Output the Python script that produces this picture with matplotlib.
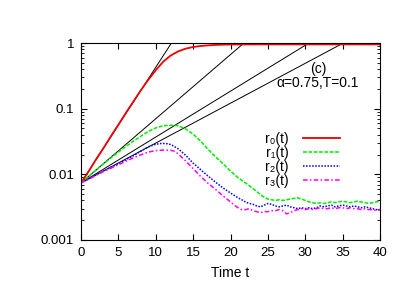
import numpy as np
import matplotlib
matplotlib.use('Agg')
import matplotlib.pyplot as plt

plt.rcParams['font.family'] = ['Liberation Sans', 'DejaVu Sans']

# r0(t)
t_r0 = [0, 1, 2, 3, 4, 5, 6, 7, 8, 9, 10, 11, 12, 13, 14, 15, 16, 17, 18, 19, 20, 22, 25, 30, 35, 40]
r0 = [0.0074, 0.011, 0.0168, 0.025, 0.038, 0.057, 0.086, 0.128, 0.19, 0.275, 0.385, 0.52, 0.645,
      0.745, 0.82, 0.87, 0.9, 0.92, 0.935, 0.943, 0.948, 0.951, 0.952, 0.952, 0.952, 0.952]

# r1(t)
t_r1 = [0, 1, 2, 3, 4, 5, 6, 7, 8, 9, 10, 11, 12, 13, 14, 15, 16, 17, 18, 19, 20, 21, 22, 23,
        23.5, 24, 24.5, 25, 25.5, 26, 26.5, 27, 27.5, 28, 28.5, 29, 29.5, 30, 30.5, 31, 31.5,
        32, 32.5, 33, 33.5, 34, 34.5, 35, 35.5, 36, 36.5, 37, 37.5, 38, 38.5, 39, 39.5, 40]
r1 = [0.0074, 0.0093, 0.0116, 0.0144, 0.0178, 0.0218, 0.0265, 0.032, 0.038, 0.045, 0.051, 0.055,
      0.056, 0.055, 0.049, 0.041, 0.032, 0.024, 0.0185, 0.0145, 0.0112, 0.0089, 0.0074, 0.0061,
      0.0055, 0.0049, 0.0045, 0.0042, 0.0041, 0.0040, 0.0041, 0.0040, 0.0041, 0.0042, 0.0043,
      0.0044, 0.0042, 0.0040, 0.0038, 0.0037, 0.0036, 0.0037, 0.0036, 0.0037, 0.0038, 0.0037,
      0.0038, 0.0039, 0.0038, 0.0037, 0.0038, 0.0039, 0.0038, 0.0037, 0.0036, 0.0037, 0.0038, 0.0039]

# r2(t)
t_r2 = [0, 1, 2, 3, 4, 5, 6, 7, 8, 9, 10, 10.8, 11.5, 12, 13, 14, 15, 16, 17, 18, 19, 20,
        21, 21.5, 22, 22.5, 23, 23.5, 24, 24.5, 25, 25.5, 26, 26.5, 27, 27.5, 28, 28.5, 29, 29.5,
        30, 30.5, 31, 31.5, 32, 32.5, 33, 33.5, 34, 34.5, 35, 35.5, 36, 36.5, 37, 37.5, 38, 38.5,
        39, 39.5, 40]
r2 = [0.0074, 0.0085, 0.0098, 0.0112, 0.0128, 0.0146, 0.0166, 0.0192, 0.0225, 0.0262, 0.0287,
      0.0296, 0.0293, 0.0285, 0.0245, 0.0195, 0.0148, 0.0118, 0.0094, 0.0076, 0.0062, 0.0052,
      0.0044, 0.0041, 0.0038, 0.0036, 0.0035, 0.0033, 0.0032, 0.0034, 0.0036, 0.0035, 0.0033,
      0.0032, 0.0033, 0.0034, 0.0032, 0.0031, 0.0030, 0.0031, 0.0030, 0.0031, 0.0030, 0.0031,
      0.0033, 0.0032, 0.0033, 0.0034, 0.0032, 0.0033, 0.0034, 0.0033, 0.0032, 0.0033, 0.0032,
      0.0031, 0.0032, 0.0031, 0.0030, 0.0029, 0.0029]

# r3(t)
t_r3 = [0, 1, 2, 3, 4, 5, 6, 7, 8, 9, 10, 11, 12, 12.5, 13, 14, 15, 16, 17, 18, 19, 20, 20.5,
        21, 21.5, 22, 22.5, 23, 23.5, 24, 24.5, 25, 25.5, 26, 26.5, 27, 27.5, 28, 28.5, 29, 29.5,
        30, 30.5, 31, 31.5, 32, 32.5, 33, 33.5, 34, 34.5, 35, 35.5, 36, 36.5, 37, 37.5, 38, 38.5,
        39, 39.5, 40]
r3 = [0.0074, 0.0084, 0.0096, 0.011, 0.0124, 0.014, 0.0158, 0.0178, 0.0198, 0.0218, 0.023,
      0.0234, 0.0232, 0.0225, 0.0205, 0.016, 0.0122, 0.0093, 0.0073, 0.0059, 0.0047, 0.0038,
      0.0034, 0.0031, 0.0029, 0.0029, 0.0030, 0.0028, 0.0027, 0.0026, 0.0027, 0.0027, 0.0028,
      0.0028, 0.0029, 0.0028, 0.0025, 0.0026, 0.0028, 0.0029, 0.0030, 0.0029, 0.0030, 0.0029,
      0.0030, 0.0031, 0.0030, 0.0030, 0.0031, 0.0030, 0.0031, 0.0031, 0.0030, 0.0031, 0.0030,
      0.0030, 0.0029, 0.0030, 0.0029, 0.0029, 0.0028, 0.0029]

# black exponential-growth guide lines: start at t=0, reach 1 at these times
guide_start = 0.0074
guide_end_t = [12.1, 21.8, 30.5, 35.1]

fig = plt.figure(figsize=(4.09, 2.86), dpi=100)
ax = fig.add_axes([81/409, 46/286, 299/409, 197/286])

for te in guide_end_t:
    ax.plot([0, te], [guide_start, 1.0], color='black', lw=0.7)

ax.plot(t_r0, r0, color='#ee0000', lw=1.3, label='r\u2080(t)')
ax.plot(t_r1, r1, color='#00ee00', lw=1.1, ls=(0, (2.5, 1)), label='r\u2081(t)')
ax.plot(t_r2, r2, color='#0000ff', lw=1.1, ls=(0, (1, 1)), label='r\u2082(t)')
ax.plot(t_r3, r3, color='#ff00ff', lw=1.1, ls=(0, (3, 1.5, 1, 1.5)), label='r\u2083(t)')

ax.set_yscale('log')
ax.set_xlim(0, 40)
ax.set_ylim(0.001, 1)
ax.set_xticks(range(0, 41, 5))
ax.set_yticks([0.001, 0.01, 0.1, 1])
ax.set_yticklabels(['0.001', '0.01', '0.1', '1'])
ax.tick_params(which='both', direction='in', top=True, right=True, labelsize=9.5, pad=5)
ax.tick_params(which='major', length=4)
ax.tick_params(which='minor', length=2)
ax.set_xlabel('Time t', fontsize=10, labelpad=5)

ax.text(0.795, 0.87, '(c)', transform=ax.transAxes, ha='center', va='center', fontsize=10)
ax.text(0.79, 0.795, 'α=0.75,T=0.1', transform=ax.transAxes, ha='center', va='center', fontsize=10)

leg = ax.legend(loc='upper right', bbox_to_anchor=(0.885, 0.575), frameon=False, markerfirst=False,
                fontsize=10, handlelength=2.7, labelspacing=0.0, borderaxespad=0, handletextpad=1.0)

fig.savefig('out.png', dpi=100)
